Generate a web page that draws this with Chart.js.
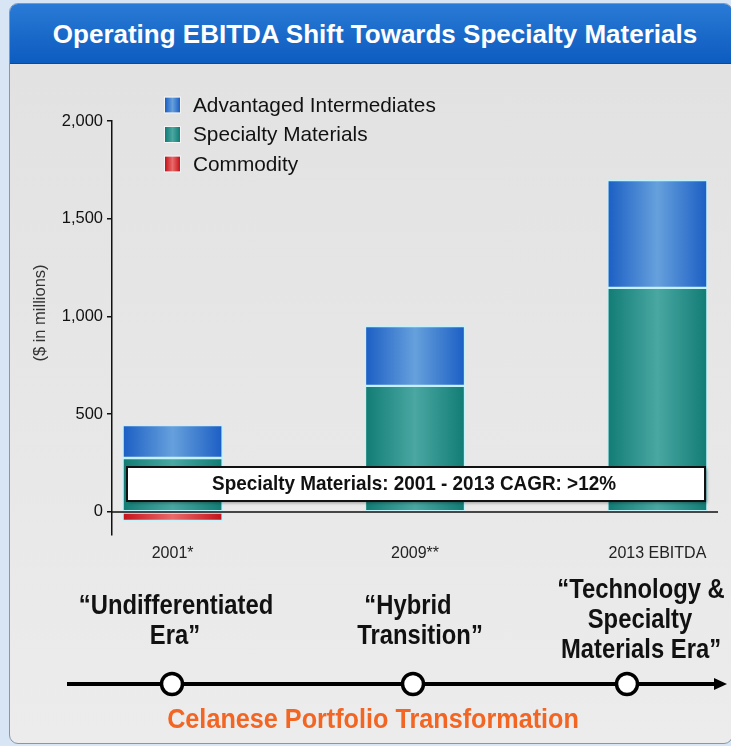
<!DOCTYPE html>
<html>
<head>
<meta charset="utf-8">
<script src="https://cdn.jsdelivr.net/npm/chart.js@4.4.1/dist/chart.umd.min.js"></script>
<style>
  html, body { margin: 0; padding: 0; }
  body { width: 731px; height: 746px; overflow: hidden; background: #d8e5f4; position: relative; }
  #panel {
    position: absolute; left: 9px; top: 3px; width: 722px; height: 739px;
    border: 1px solid #8797ab; border-radius: 9px; overflow: hidden;
    background: linear-gradient(#e1e1e1, #ececec);
  }
  #head {
    height: 59px; padding-left: 8px;
    background: linear-gradient(#2a7ad6, #0c5bbf);
    border-bottom: 1px solid #0a4a9a;
    color: #fff; text-align: center;
    font: bold 26px "Liberation Sans", Arial, sans-serif;
    line-height: 60px;
  }
  #chart { position: absolute; left: 0; top: 0; }
</style>
</head>
<body>
<div id="panel">
  <div id="head">Operating EBITDA Shift Towards Specialty Materials</div>
</div>
<canvas id="chart" width="731" height="746"></canvas>
<script>
// $ in millions
const categories = ['2001*', '2009**', '2013 EBITDA'];
const specialtyMaterials = [276, 645, 1146];
const advantagedIntermediates = [168, 306, 552];
const commodity = [-46, null, null];
const yTicks = [0, 500, 1000, 1500, 2000];

const eras = [
  ['\u201CUndifferentiated', 'Era\u201D'],
  ['\u201CHybrid', 'Transition\u201D'],
  ['\u201CTechnology &', 'Specialty', 'Materials Era\u201D']
];

const SANS = '"Liberation Sans", Arial, sans-serif';

const blue = ['#1b5ec4', '#66a0dc'];
const teal = ['#117c74', '#4aa7a2'];
const red = ['#c4121a', '#ea6a6a'];

// cylinder-like shading across each bar
function barFill(stops) {
  return function (c) {
    const x = c.chart.scales.x;
    if (!x || c.dataIndex === undefined) return stops[0];
    const cx = x.getPixelForValue(c.dataIndex);
    if (!isFinite(cx)) return stops[0];
    const g = c.chart.ctx.createLinearGradient(cx - 50, 0, cx + 50, 0);
    g.addColorStop(0, stops[0]);
    g.addColorStop(0.5, stops[1]);
    g.addColorStop(1, stops[0]);
    return g;
  };
}

function points(values) {
  return values.map((v, i) => ({ x: i, y: v }));
}

function series(label, values, stops) {
  return {
    label: label,
    data: points(values),
    backgroundColor: barFill(stops),
    borderColor: '#c4f2fb',
    borderWidth: 1.5,
    borderSkipped: false,
    barThickness: 100,
    stops: stops
  };
}

const datasets = [
  series('Specialty Materials', specialtyMaterials, teal),
  series('Advantaged Intermediates', advantagedIntermediates, blue),
  series('Commodity', commodity, red)
];
const legendOrder = [1, 0, 2];

// condensed bold text, centred on (x, y)
function narrowText(ctx, text, x, y, size, squeeze) {
  ctx.save();
  ctx.translate(x, y);
  ctx.scale(squeeze, 1);
  ctx.font = 'bold ' + size + 'px ' + SANS;
  ctx.textAlign = 'center';
  ctx.textBaseline = 'middle';
  ctx.fillText(text, 0, 0);
  ctx.restore();
}

const decor = {
  id: 'decor',
  afterDatasetsDraw(chart) {
    const { ctx, chartArea, scales } = chart;
    const y0 = scales.y.getPixelForValue(0);
    ctx.save();
    ctx.strokeStyle = '#111';
    ctx.lineWidth = 1.5;
    ctx.beginPath();
    ctx.moveTo(chartArea.left, y0);
    ctx.lineTo(chartArea.right, y0);
    ctx.stroke();

    // CAGR callout over the bars
    ctx.shadowColor = 'rgba(0,0,0,0.35)';
    ctx.shadowOffsetX = 2;
    ctx.shadowOffsetY = 2;
    ctx.shadowBlur = 3;
    ctx.fillStyle = '#fff';
    ctx.fillRect(127, 467, 578, 34);
    ctx.shadowColor = 'transparent';
    ctx.lineWidth = 2;
    ctx.strokeRect(127, 467, 578, 34);
    ctx.fillStyle = '#111';
    narrowText(ctx, 'Specialty Materials: 2001 - 2013 CAGR: >12%', 414, 484, 21, 0.9);
    ctx.restore();
  },
  afterDraw(chart) {
    const ctx = chart.ctx;
    ctx.save();

    // legend
    ctx.font = '20.8px ' + SANS;
    ctx.textBaseline = 'middle';
    ctx.textAlign = 'left';
    legendOrder.forEach((d, i) => {
      const ds = chart.data.datasets[d];
      const cy = 105 + i * 29.5;
      const g = ctx.createLinearGradient(165, 0, 180, 0);
      g.addColorStop(0, ds.stops[0]);
      g.addColorStop(0.5, ds.stops[1]);
      g.addColorStop(1, ds.stops[0]);
      ctx.fillStyle = g;
      ctx.fillRect(165, cy - 7.5, 15, 15);
      ctx.strokeStyle = 'rgba(255,255,255,0.6)';
      ctx.lineWidth = 1;
      ctx.strokeRect(164.5, cy - 8, 16, 16);
      ctx.fillStyle = '#111';
      ctx.fillText(ds.label, 193, cy + 1);
    });

    // axis title
    ctx.save();
    ctx.translate(40, 313);
    ctx.rotate(-Math.PI / 2);
    ctx.textAlign = 'center';
    ctx.textBaseline = 'middle';
    ctx.fillStyle = '#333';
    ctx.font = '16.5px ' + SANS;
    ctx.fillText('($ in millions)', 0, 0);
    ctx.restore();

    // portfolio timeline
    const ly = 684;
    ctx.strokeStyle = '#000';
    ctx.fillStyle = '#000';
    ctx.lineWidth = 4;
    ctx.beginPath();
    ctx.moveTo(67, ly);
    ctx.lineTo(716, ly);
    ctx.stroke();
    ctx.beginPath();
    ctx.moveTo(727, ly);
    ctx.lineTo(714, ly - 6);
    ctx.lineTo(714, ly + 6);
    ctx.closePath();
    ctx.fill();
    [172, 413, 627].forEach(cx => {
      ctx.beginPath();
      ctx.arc(cx, ly, 10.5, 0, Math.PI * 2);
      ctx.fillStyle = '#fff';
      ctx.fill();
      ctx.lineWidth = 3.5;
      ctx.stroke();
    });

    ctx.fillStyle = '#111';
    const eraX = [[176, 175], [408, 420], [641, 640, 641]];
    const eraTop = [606, 606, 590];
    eras.forEach((lines, i) => {
      lines.forEach((t, k) => narrowText(ctx, t, eraX[i][k], eraTop[i] + k * 30, 28, 0.85));
    });

    ctx.fillStyle = '#f26522';
    narrowText(ctx, 'Celanese Portfolio Transformation', 373, 720, 28, 0.9);
    ctx.restore();
  }
};

new Chart(document.getElementById('chart'), {
  type: 'bar',
  data: { datasets: datasets },
  plugins: [decor],
  options: {
    responsive: false,
    animation: false,
    devicePixelRatio: 1,
    layout: { padding: { left: 0, top: 121, right: 13, bottom: 171 } },
    plugins: { legend: { display: false }, tooltip: { enabled: false } },
    scales: {
      x: {
        type: 'linear',
        stacked: true,
        offset: false,
        min: -0.25,
        max: 2.25,
        afterBuildTicks: s => { s.ticks = categories.map((c, i) => ({ value: i })); },
        afterFit: s => { s.height = 40; },
        grid: { display: false, drawTicks: false },
        border: { display: false },
        ticks: {
          callback: v => categories[v],
          color: '#222',
          padding: 9,
          maxRotation: 0,
          font: { family: SANS, size: 16 }
        }
      },
      y: {
        stacked: true,
        min: -118,
        max: 2000,
        afterBuildTicks: s => { s.ticks = yTicks.map(v => ({ value: v })); },
        afterFit: s => { s.width = 112; },
        grid: { drawOnChartArea: false, drawTicks: true, tickLength: 5, color: '#111', lineWidth: 1.5 },
        border: { display: true, color: '#111', width: 1.5 },
        ticks: {
          callback: v => v.toLocaleString('en-US'),
          color: '#111',
          padding: 4,
          font: { family: SANS, size: 16.5 }
        }
      }
    }
  }
});
</script>
</body>
</html>
